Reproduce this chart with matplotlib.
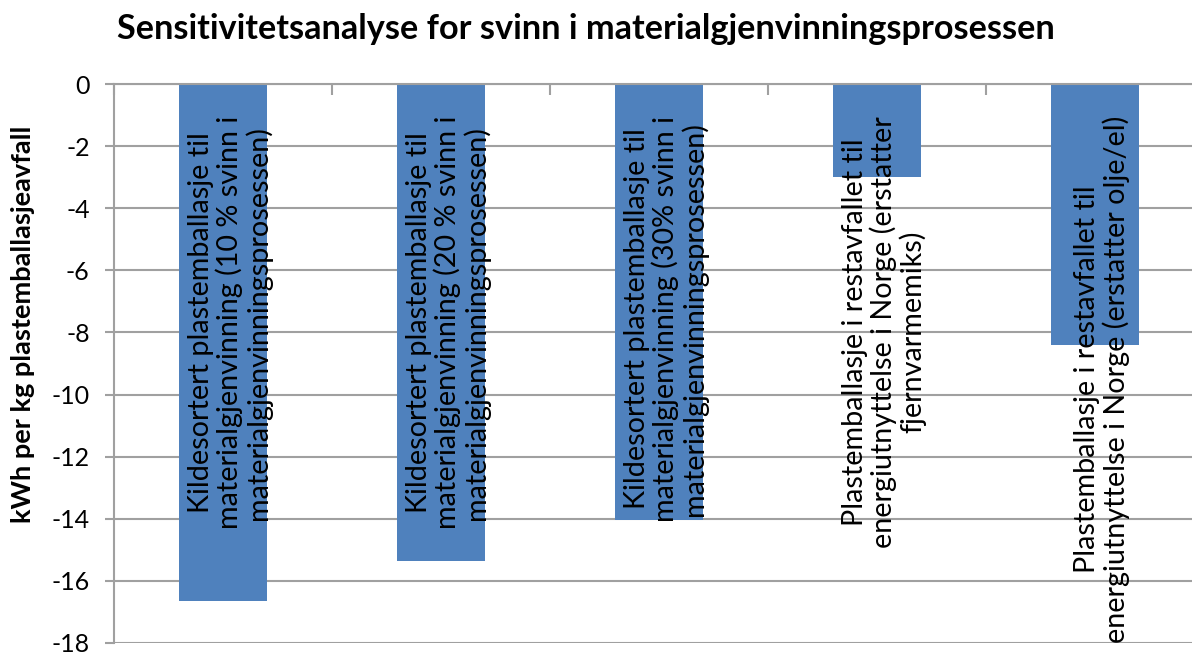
import matplotlib
matplotlib.use("Agg")
import matplotlib.pyplot as plt
import numpy as np

plt.rcParams["font.family"] = ["Lato", "DejaVu Sans"]

TITLE = "Sensitivitetsanalyse for svinn i materialgjenvinningsprosessen"
YLABEL = "kWh per kg plastemballasjeavfall"
CATEGORIES = [
    "Kildesortert plastemballasje til\nmaterialgjenvinning (10 % svinn i\nmaterialgjenvinningsprosessen)",
    "Kildesortert plastemballasje til\nmaterialgjenvinning (20 % svinn i\nmaterialgjenvinningsprosessen)",
    "Kildesortert plastemballasje til\nmaterialgjenvinning (30% svinn i\nmaterialgjenvinningsprosessen)",
    "Plastemballasje i restavfallet til\nenergiutnyttelse i Norge (erstatter\nfjernvarmemiks)",
    "Plastemballasje i restavfallet til\nenergiutnyttelse i Norge (erstatter olje/el)",
]
VALUES = [-16.65, -15.35, -14.05, -3.0, -8.4]
YTICKS = list(range(0, -20, -2))

BAR = "#4F81BD"
GRID = "#A0A0A0"

fig = plt.figure(figsize=(11.92, 6.53), dpi=100)
ax = fig.add_axes([114 / 1192, 1 - 643 / 653, 1090 / 1192, 559 / 653])

x = np.arange(len(CATEGORIES))
ax.bar(x, VALUES, width=0.4, color=BAR, zorder=2)

ax.set_xlim(-0.5, len(CATEGORIES) - 0.5)
ax.set_ylim(-18, 0)
ax.set_yticks(YTICKS)
ax.set_yticklabels([str(t) for t in YTICKS], fontsize=18)
ax.yaxis.grid(True, color=GRID, linewidth=1.5, zorder=0)
ax.tick_params(axis="y", length=6.5, width=1.5, color=GRID, pad=11)

# category boundaries as tick marks on the zero line
ax.xaxis.tick_top()
ax.set_xticks(np.arange(-0.5, len(CATEGORIES), 1.0))
ax.set_xticklabels([])
ax.tick_params(axis="x", direction="in", length=8, width=1.5, color=GRID)

for s in ["right", "bottom"]:
    ax.spines[s].set_visible(False)
for s in ["left", "top"]:
    ax.spines[s].set_color(GRID)
    ax.spines[s].set_linewidth(1.5)

for xi, lab in zip(x, CATEGORIES):
    ax.annotate(lab, (xi, 0), xytext=(5, -23), textcoords="offset points",
                rotation=90, ha="center", va="top", multialignment="center",
                fontsize=20.7, linespacing=1.08, zorder=3)

fig.text(586 / 1192, 1 - 29 / 653, TITLE, ha="center", va="center",
         fontsize=24.7, fontweight="bold")
fig.text(23 / 1192, 1 - 324 / 653, YLABEL, ha="center", va="center",
         rotation=90, fontsize=19.5, fontweight="bold")

fig.savefig("out.png", dpi=100)
